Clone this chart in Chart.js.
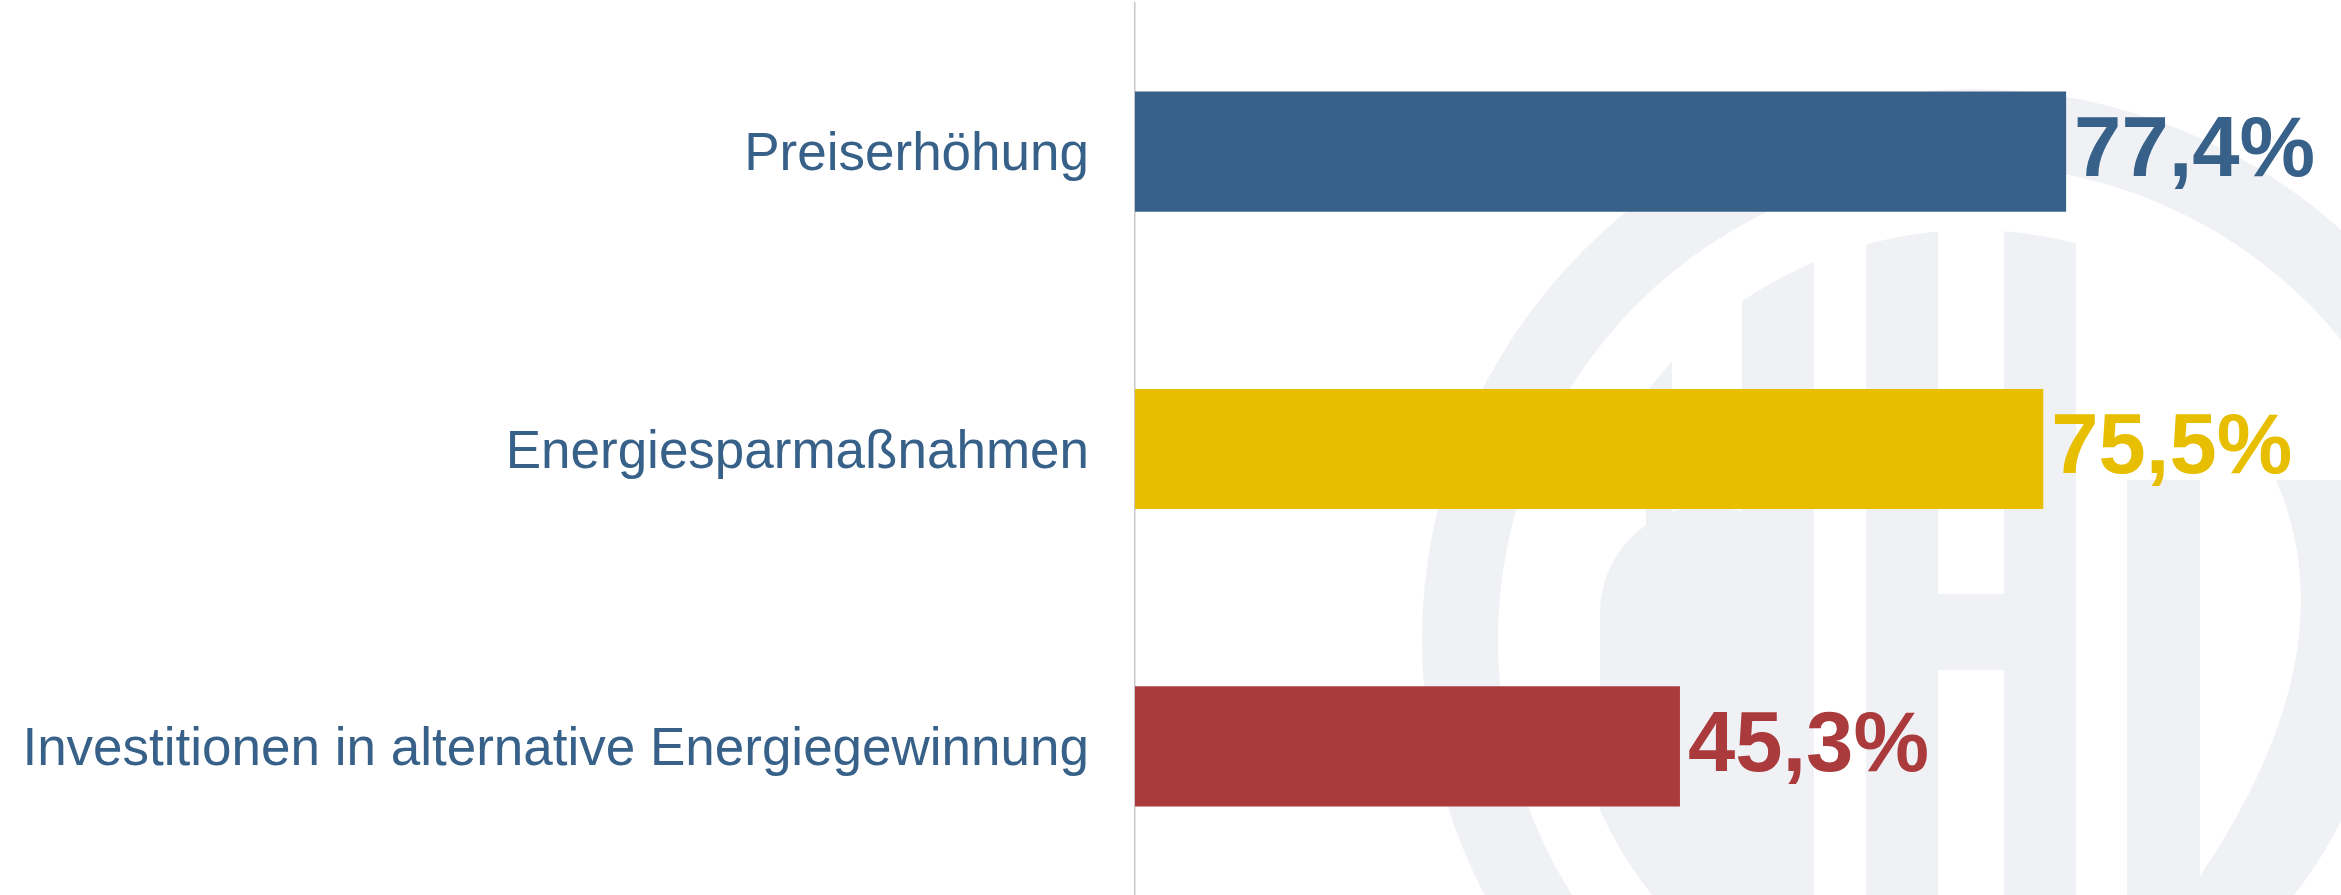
<!DOCTYPE html>
<html>
<head>
<meta charset="utf-8">
<title>Maßnahmen</title>
<script src="https://cdn.jsdelivr.net/npm/chart.js@4.4.0/dist/chart.umd.min.js"></script>
<style>
  html, body { margin: 0; padding: 0; background: #ffffff; }
  #box { width: 2341px; height: 895px; position: relative; }
</style>
</head>
<body>
<div id="box"><canvas id="chart"></canvas></div>
<script>
  // Daten
  const categories = ["Preiserhöhung", "Energiesparmaßnahmen", "Investitionen in alternative Energiegewinnung"];
  const values = [77.4, 75.5, 45.3];
  const barColors = ["#376189", "#E8BE00", "#AA3A3C"];
  const labelColor = "#376189";

  // Wasserzeichen (Logo im Hintergrund)
  const watermark = {
    id: "watermark",
    beforeDraw(chart) {
      const ctx = chart.ctx;
      const cx = 1973, cy = 640;
      ctx.save();
      ctx.fillStyle = "#F0F1F5";

      // Ring
      ctx.beginPath();
      ctx.arc(cx, cy, 551, 0, Math.PI * 2);
      ctx.arc(cx, cy, 475, 0, Math.PI * 2, true);
      ctx.fill("evenodd");

      // Buchstaben, innen an Kreis geschnitten
      ctx.beginPath();
      ctx.arc(cx, cy, 410, 0, Math.PI * 2);
      ctx.clip();

      const rr = (x, y, w, h, r) => {
        ctx.beginPath();
        ctx.roundRect(x, y, w, h, r);
        ctx.fill();
      };
      // G
      rr(1742, 200, 72, 700, 6);
      rr(1600, 506, 214, 400, [107, 107, 0, 0]);
      rr(1646, 300, 26, 300, 0);
      // H
      rr(1866, 200, 72, 700, 6);
      rr(2004, 200, 72, 700, 6);
      rr(1938, 594, 66, 76, 0);
      // D
      rr(2127, 480, 73, 420, 0);
      ctx.beginPath();
      ctx.moveTo(2276, 480);
      ctx.lineTo(2341, 480);
      ctx.lineTo(2341, 895);
      ctx.lineTo(2190, 895);
      ctx.lineTo(2204, 870);
      ctx.quadraticCurveTo(2350, 650, 2276, 480);
      ctx.closePath();
      ctx.fill();
      ctx.restore();
    }
  };

  // Werte rechts neben den Balken
  const valueLabels = {
    id: "valueLabels",
    afterDatasetsDraw(chart) {
      const ctx = chart.ctx;
      const meta = chart.getDatasetMeta(0);
      ctx.save();
      ctx.font = "bold 85px 'Liberation Sans', Arial, sans-serif";
      ctx.textAlign = "left";
      ctx.textBaseline = "middle";
      meta.data.forEach((bar, i) => {
        ctx.fillStyle = barColors[i];
        ctx.fillText(values[i].toFixed(1).replace(".", ",") + "%", bar.x + 8, bar.y + 1);
      });
      ctx.restore();
    }
  };

  new Chart(document.getElementById("chart"), {
    type: "bar",
    data: {
      labels: categories,
      datasets: [{
        data: values,
        backgroundColor: barColors,
        borderWidth: 0,
        categoryPercentage: 1,
        barPercentage: 0.404
      }]
    },
    options: {
      indexAxis: "y",
      responsive: true,
      maintainAspectRatio: false,
      animation: false,
      layout: { padding: { top: 3, right: 3, bottom: 0, left: 0 } },
      plugins: {
        legend: { display: false },
        tooltip: { enabled: false }
      },
      scales: {
        x: { display: false, min: 0, max: 100 },
        y: {
          grid: { display: false, drawTicks: false },
          border: { display: true, color: "#c8c8c8", width: 1.5 },
          ticks: {
            color: labelColor,
            padding: 46,
            labelOffset: 4,
            font: { family: "'Liberation Sans', Arial, sans-serif", size: 53 }
          },
          afterFit(scale) {
            scale.width = 1135;
            scale.paddingTop = 0;
            scale.paddingBottom = 0;
          }
        }
      }
    },
    plugins: [watermark, valueLabels]
  });
</script>
</body>
</html>
